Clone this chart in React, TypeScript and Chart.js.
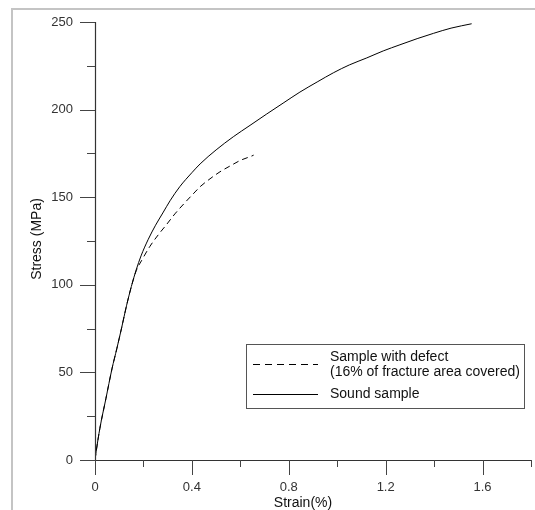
import React, { useEffect, useRef } from "react";
import { Chart, registerables } from "chart.js";

Chart.register(...registerables);

// Sound sample (strain %, stress MPa)
const soundStrain = [0, 0.005, 0.02, 0.045, 0.07, 0.09, 0.11, 0.13, 0.15, 0.17, 0.19, 0.22, 0.25, 0.28, 0.31, 0.35, 0.4, 0.434, 0.5, 0.571, 0.64, 0.709, 0.78, 0.846, 0.92, 0.984, 1.05, 1.122, 1.19, 1.259, 1.33, 1.397, 1.47, 1.555];
const soundStress = [0, 5, 18, 35, 52, 63.5, 75.5, 88, 99, 108.5, 116.5, 126, 134, 141, 148, 156, 164, 169, 177, 184.5, 191, 197.5, 204, 210, 216, 221, 225.5, 229.5, 233.5, 237, 240.5, 243.5, 246.5, 249];

// Sample with defect
const defectStrain = [0, 0.005, 0.02, 0.045, 0.07, 0.09, 0.11, 0.13, 0.15, 0.17, 0.193, 0.227, 0.261, 0.296, 0.33, 0.372, 0.413, 0.434, 0.47, 0.516, 0.56, 0.6, 0.647, 0.655];
const defectStress = [0, 5, 18, 35, 52, 63.5, 75.5, 88, 99, 108, 114, 122, 128.5, 134.5, 140.5, 147, 153, 156, 160, 164.5, 168, 171, 173.5, 174];

const legendLines = [["Sample with defect", "(16% of fracture area covered)"], ["Sound sample"]];
const xTitle = "Strain(%)";
const yTitle = "Stress (MPa)";
const xMin = 0, xMax = 1.8, xStep = 0.2;
const yMin = 0, yMax = 250, yStep = 25;

const FONT = "'Liberation Sans', Arial, sans-serif";

const zeroPad = (s: any) => {
  s.paddingLeft = 0;
  s.paddingRight = 0;
  s.paddingTop = 0;
  s.paddingBottom = 0;
};

const decorPlugin = {
  id: "decor",
  beforeDraw(chart: any) {
    const ctx = chart.ctx;
    ctx.save();
    ctx.fillStyle = "#ffffff";
    ctx.fillRect(0, 0, chart.width, chart.height);
    ctx.fillStyle = "#c4c4c4";
    ctx.fillRect(11, 8, chart.width - 11, 2);
    ctx.fillRect(11, 8, 2, chart.height - 8);
    ctx.restore();
  },
  afterDraw(chart: any) {
    const ctx = chart.ctx;
    const { left, right, top, bottom } = chart.chartArea;
    const xs = chart.scales.x;
    const ys = chart.scales.y;
    ctx.save();
    // axis lines
    ctx.strokeStyle = "#333";
    ctx.lineWidth = 1.2;
    ctx.beginPath();
    ctx.moveTo(left + 0.5, top);
    ctx.lineTo(left + 0.5, bottom + 0.5);
    ctx.lineTo(right, bottom + 0.5);
    ctx.stroke();
    // ticks
    ctx.lineWidth = 1;
    ctx.strokeStyle = "#444";
    xs.ticks.forEach((t: any, i: number) => {
      const px = Math.round(xs.getPixelForTick(i)) + 0.5;
      const len = i % 2 === 0 ? 15 : 7;
      ctx.beginPath();
      ctx.moveTo(px, bottom);
      ctx.lineTo(px, bottom + len);
      ctx.stroke();
    });
    ys.ticks.forEach((t: any, i: number) => {
      const py = Math.round(ys.getPixelForTick(i)) + 0.5;
      const len = i % 2 === 0 ? 15 : 8;
      ctx.beginPath();
      ctx.moveTo(left, py);
      ctx.lineTo(left - len, py);
      ctx.stroke();
    });
    // axis titles
    ctx.fillStyle = "#111";
    ctx.font = `14px ${FONT}`;
    ctx.textAlign = "center";
    ctx.textBaseline = "middle";
    ctx.fillText(xTitle, 303, 503);
    ctx.save();
    ctx.translate(37, 239);
    ctx.rotate(-Math.PI / 2);
    ctx.fillText(yTitle, 0, 0);
    ctx.restore();
    // legend
    ctx.strokeStyle = "#555";
    ctx.lineWidth = 1;
    ctx.strokeRect(246.5, 344.5, 278, 64);
    ctx.strokeStyle = "#000";
    ctx.setLineDash([7, 5]);
    ctx.beginPath();
    ctx.moveTo(253, 364.5);
    ctx.lineTo(318, 364.5);
    ctx.stroke();
    ctx.setLineDash([]);
    ctx.beginPath();
    ctx.moveTo(253, 394.5);
    ctx.lineTo(318, 394.5);
    ctx.stroke();
    ctx.font = `14px ${FONT}`;
    ctx.textAlign = "left";
    ctx.fillStyle = "#111";
    ctx.fillText(legendLines[0][0], 330, 357);
    ctx.fillText(legendLines[0][1], 330, 372);
    ctx.fillText(legendLines[1][0], 330, 394);
    ctx.restore();
  },
};

export default function App() {
  const ref = useRef<HTMLCanvasElement | null>(null);
  useEffect(() => {
    if (!ref.current) return;
    const chart = new Chart(ref.current, {
      type: "line",
      data: {
        datasets: [
          {
            label: "Sample with defect",
            data: defectStrain.map((x, i) => ({ x, y: defectStress[i] })),
            borderColor: "#000",
            borderWidth: 1,
            borderDash: [6, 4],
            pointRadius: 0,
            cubicInterpolationMode: "monotone",
            fill: false,
          },
          {
            label: "Sound sample",
            data: soundStrain.map((x, i) => ({ x, y: soundStress[i] })),
            borderColor: "#000",
            borderWidth: 1,
            pointRadius: 0,
            cubicInterpolationMode: "monotone",
            fill: false,
          },
        ],
      },
      options: {
        responsive: false,
        animation: false,
        devicePixelRatio: 1,
        layout: { padding: { left: 0, right: 4, top: 22, bottom: 0 } },
        plugins: { legend: { display: false }, tooltip: { enabled: false } },
        scales: {
          x: {
            type: "linear",
            min: xMin,
            max: xMax,
            grid: { display: false, drawTicks: false },
            border: { display: false },
            afterFit: (s: any) => { s.height = 50; zeroPad(s); },
            ticks: {
              stepSize: xStep,
              autoSkip: false,
              maxRotation: 0,
              padding: 20,
              color: "#333",
              font: { family: FONT, size: 13 },
              callback: (v: any, i: number) => (i % 2 === 0 ? String(Number(Number(v).toFixed(1))) : ""),
            },
          },
          y: {
            type: "linear",
            min: yMin,
            max: yMax,
            grid: { display: false, drawTicks: false },
            border: { display: false },
            afterFit: (s: any) => { s.width = 95; zeroPad(s); },
            ticks: {
              stepSize: yStep,
              autoSkip: false,
              padding: 22,
              color: "#333",
              font: { family: FONT, size: 13 },
              callback: (v: any, i: number) => (i % 2 === 0 ? String(v) : ""),
            },
          },
        },
      },
      plugins: [decorPlugin],
    } as any);
    return () => chart.destroy();
  }, []);
  return (
    <div style={{ position: "fixed", left: 0, top: 0, width: 535, height: 510, background: "#fff" }}>
      <canvas ref={ref} width={535} height={510} style={{ display: "block" }} />
    </div>
  );
}
